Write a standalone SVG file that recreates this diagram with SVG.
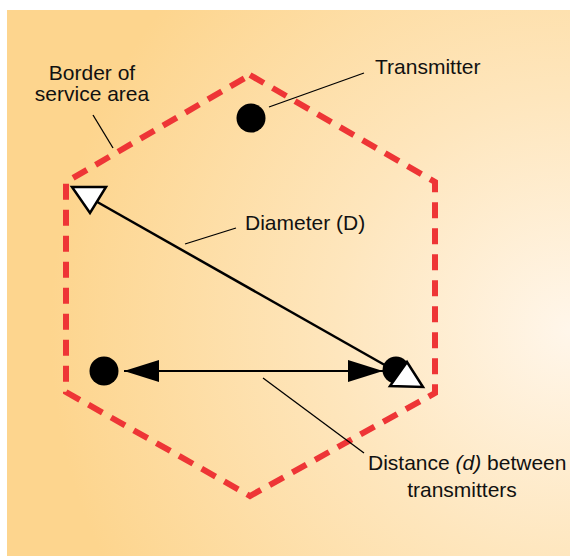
<svg xmlns="http://www.w3.org/2000/svg" width="570" height="556" viewBox="0 0 570 556">
<defs>
<radialGradient id="bg" cx="570" cy="330" r="520" gradientUnits="userSpaceOnUse">
<stop offset="0" stop-color="#FFF6EA"/>
<stop offset="0.45" stop-color="#FEE6BD"/>
<stop offset="1" stop-color="#FDD58E"/>
</radialGradient>
<marker id="ah" viewBox="0 0 35 22" refX="35" refY="11" markerWidth="35" markerHeight="22" markerUnits="userSpaceOnUse" orient="auto-start-reverse">
<path d="M0,0 L35,11 L0,22 Z" fill="#000"/>
</marker>
<style>
.lbl{font-family:"Liberation Sans",Arial,sans-serif;font-size:21px;fill:#111}
.lead{stroke:#000;stroke-width:1.3;fill:none}
.dot{fill:#000}
.ant{fill:#fff;stroke:#000;stroke-width:2.5;stroke-linejoin:miter}
</style>
</defs>
<rect x="0" y="0" width="570" height="556" fill="#fff"/>
<rect x="7" y="10" width="563" height="546" fill="url(#bg)"/>
<g id="border">
<path d="M250,75 L435,182 L435,393 L250,496 L66,392 L66,182 Z" fill="none" stroke="#EE3536" stroke-width="6" stroke-dasharray="16 10"/>
</g>
<g id="connectors">
<line x1="92" y1="199" x2="390" y2="368" stroke="#000" stroke-width="2.5"/>
<line x1="124" y1="371" x2="383" y2="371" stroke="#000" stroke-width="2.2" marker-start="url(#ah)" marker-end="url(#ah)"/>
<line class="lead" x1="269" y1="107" x2="364" y2="73"/>
<line class="lead" x1="93" y1="115" x2="113" y2="148"/>
<line class="lead" x1="185" y1="244" x2="236" y2="228"/>
<line class="lead" x1="263" y1="378" x2="364" y2="453"/>
</g>
<g id="tx-top"><circle class="dot" cx="251" cy="118" r="14.5"/></g>
<g id="tx-left"><circle class="dot" cx="104" cy="371" r="14.5"/></g>
<g id="tx-right"><circle class="dot" cx="396" cy="370" r="13.5"/></g>
<g id="antenna-tl"><polygon class="ant" points="72,187 106,187 90,213"/></g>
<g id="antenna-br"><polygon class="ant" points="407,362 390,386 423,387"/></g>
<g id="label-transmitter"><text class="lbl" x="375" y="74">Transmitter</text></g>
<g id="label-border"><text class="lbl" x="92" y="80" text-anchor="middle">Border of</text><text class="lbl" x="92" y="101" text-anchor="middle">service area</text></g>
<g id="label-diameter"><text class="lbl" x="245" y="230">Diameter (D)</text></g>
<g id="label-distance"><text class="lbl" x="368" y="470">Distance <tspan font-style="italic">(d)</tspan> between</text><text class="lbl" x="462" y="497" text-anchor="middle">transmitters</text></g>
</svg>
